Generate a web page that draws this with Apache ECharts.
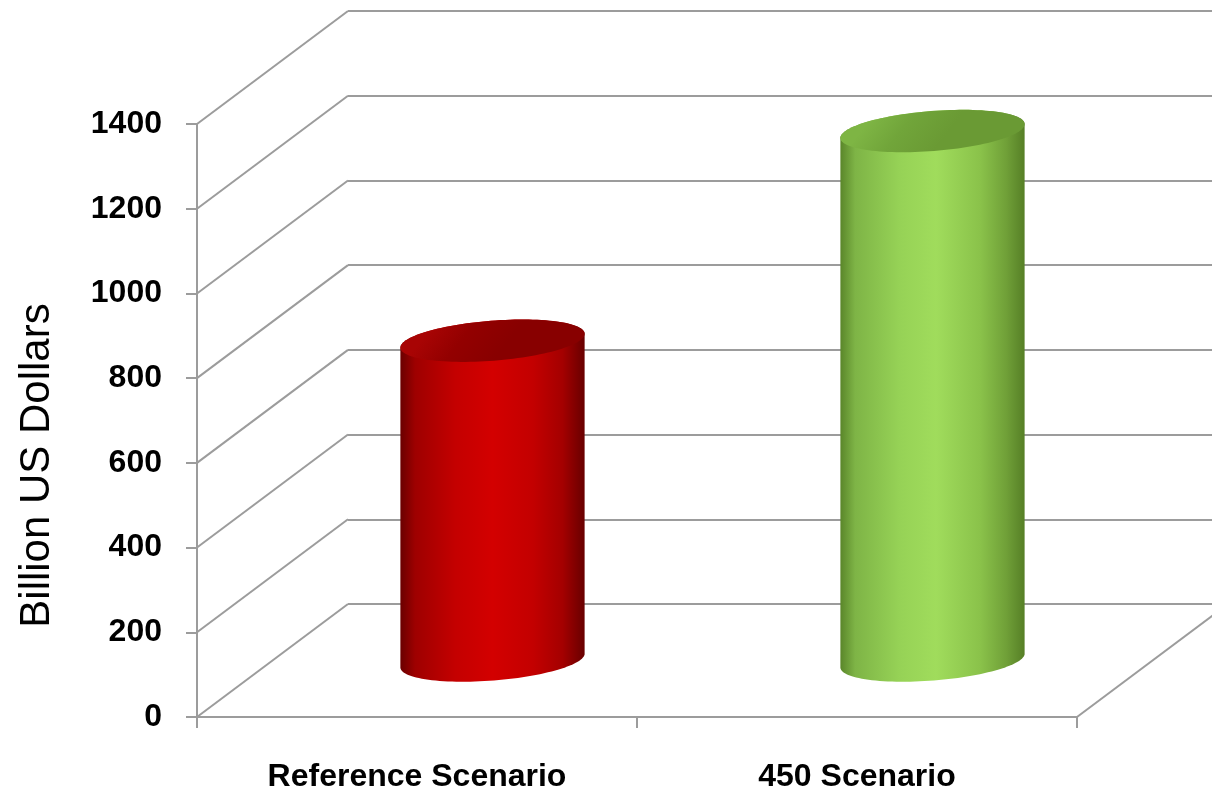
<!DOCTYPE html>
<html><head><meta charset="utf-8">
<script src="https://cdn.jsdelivr.net/npm/echarts@6/dist/echarts.min.js"></script>
<style>html,body{margin:0;padding:0;background:#fff}#c{width:1212px;height:794px}</style>
</head><body><div id="c"></div>
<script>
// ---- data ----
const categories = ['Reference Scenario', '450 Scenario'];
const values = [755, 1250];
const yTicks = [0, 200, 400, 600, 800, 1000, 1200, 1400];
const yTitle = 'Billion US Dollars';

// ---- style / geometry constants ----
const yMin = 0, yMax = 1400, yStep = 200;
const DX = 151, DY = -113;          // depth offset of the back wall
const LINE = '#9c9c9c';
const FONT = 'Liberation Sans';
const bodyStops = [
  [[0,'#6a0000'],[0.08,'#9e0000'],[0.3,'#c40000'],[0.5,'#d30000'],[0.72,'#c30000'],[0.88,'#a40000'],[1,'#680000']],
  [[0,'#5a862a'],[0.08,'#7eb446'],[0.32,'#96d256'],[0.52,'#a0dc5c'],[0.76,'#8ac24a'],[0.9,'#70a038'],[1,'#567f26']]
];
const topStops = [
  [[0,'#a80404'],[0.45,'#930000'],[1,'#880000']],
  [[0,'#7eb544'],[0.45,'#71a53a'],[1,'#6a9a34']]
];

function ellipsePts(cx, cy, rx, ry, phi, t0, t1, n) {
  const pts = [], c = Math.cos(phi), s = Math.sin(phi);
  for (let k = 0; k <= n; k++) {
    const t = t0 + (t1 - t0) * k / n;
    const ex = rx * Math.cos(t), ey = ry * Math.sin(t);
    pts.push([cx + ex * c + ey * s, cy - ex * s + ey * c]);
  }
  return pts;
}

const chart = echarts.init(document.getElementById('c'), null, {renderer: 'canvas'});
chart.setOption({
  animation: false,
  backgroundColor: '#ffffff',
  grid: [
    {left: 197, top: 124, width: 880, height: 593},
    {left: 197 + DX, top: 124 + DY, width: 880, height: 593}
  ],
  xAxis: [
    {
      type: 'category', gridIndex: 0, data: categories,
      axisLine: {show: true, lineStyle: {color: LINE, width: 2}},
      axisTick: {show: true, length: 11, lineStyle: {color: LINE, width: 2}},
      axisLabel: {color: '#000', fontFamily: FONT, fontWeight: 'bold', fontSize: 32, margin: 44},
      splitLine: {show: false}
    },
    {type: 'value', gridIndex: 1, min: 0, max: 1, show: false}
  ],
  yAxis: [
    {
      type: 'value', gridIndex: 0, min: yMin, max: yMax, interval: yStep,
      name: yTitle, nameLocation: 'middle', nameRotate: 90, nameGap: 139,
      nameTextStyle: {color: '#000', fontFamily: FONT, fontSize: 42, fontWeight: 'normal',
        padding: [0, 90, 0, 0]},
      axisLine: {show: true, lineStyle: {color: LINE, width: 2}},
      axisTick: {show: true, length: 11, lineStyle: {color: LINE, width: 2}},
      axisLabel: {color: '#000', fontFamily: FONT, fontWeight: 'bold', fontSize: 32, margin: 35,
        formatter: v => (yTicks.indexOf(v) >= 0 ? String(v) : '')},
      splitLine: {show: false}
    },
    {
      type: 'value', gridIndex: 1, min: yMin, max: yMax, interval: yStep,
      axisLine: {show: false}, axisTick: {show: false}, axisLabel: {show: false},
      splitLine: {show: true, lineStyle: {color: LINE, width: 2}}
    }
  ],
  series: [
    {
      type: 'custom', xAxisIndex: 0, yAxisIndex: 0, z: 1, silent: true,
      data: yTicks.map(t => [0, t]),
      renderItem: function (params, api) {
        const cs = params.coordSys;
        const y = api.coord([0, api.value(1)])[1];
        const x0 = cs.x;
        const children = [{
          type: 'line',
          shape: {x1: x0, y1: y, x2: x0 + DX, y2: y + DY},
          style: {stroke: LINE, lineWidth: 2}
        }];
        if (api.value(1) === yMin) {
          const xr = cs.x + cs.width;
          children.push({
            type: 'line',
            shape: {x1: xr, y1: y, x2: xr + DX, y2: y + DY},
            style: {stroke: LINE, lineWidth: 2}
          });
        }
        return {type: 'group', children: children};
      }
    },
    {
      type: 'custom', xAxisIndex: 0, yAxisIndex: 0, z: 5, silent: true,
      data: values.map((v, i) => [i, v]),
      renderItem: function (params, api) {
        const i = api.value(0), v = api.value(1);
        const pb = api.coord([i, 0]);
        const pt = api.coord([i, v]);
        const rx = api.size([1, 0])[0] * 0.42 / 2;
        const ry = 20;
        const phi = 4.5 * Math.PI / 180;
        const bx = pb[0] + DX / 2, by = pb[1] + DY / 2;
        const tx = pt[0] + DX / 2, ty = pt[1] + DY / 2;
        const bottomFront = ellipsePts(bx, by, rx, ry, phi, Math.PI, 0, 60);
        const topBack = ellipsePts(tx, ty, rx, ry, phi, 0, -Math.PI, 60);
        const body = bottomFront.concat(topBack);
        const topE = ellipsePts(tx, ty, rx, ry, phi, 0, 2 * Math.PI, 120);
        const idx = params.dataIndex;
        return {
          type: 'group',
          children: [
            {
              type: 'polygon', shape: {points: body},
              style: {fill: {type: 'linear', x: 0, y: 0, x2: 1, y2: 0,
                colorStops: bodyStops[idx].map(s => ({offset: s[0], color: s[1]}))}}
            },
            {
              type: 'polygon', shape: {points: topE},
              style: {fill: {type: 'linear', x: 0.2, y: 0, x2: 0.5, y2: 1,
                colorStops: topStops[idx].map(s => ({offset: s[0], color: s[1]}))}}
            }
          ]
        };
      }
    }
  ]
});
</script>
</body></html>
